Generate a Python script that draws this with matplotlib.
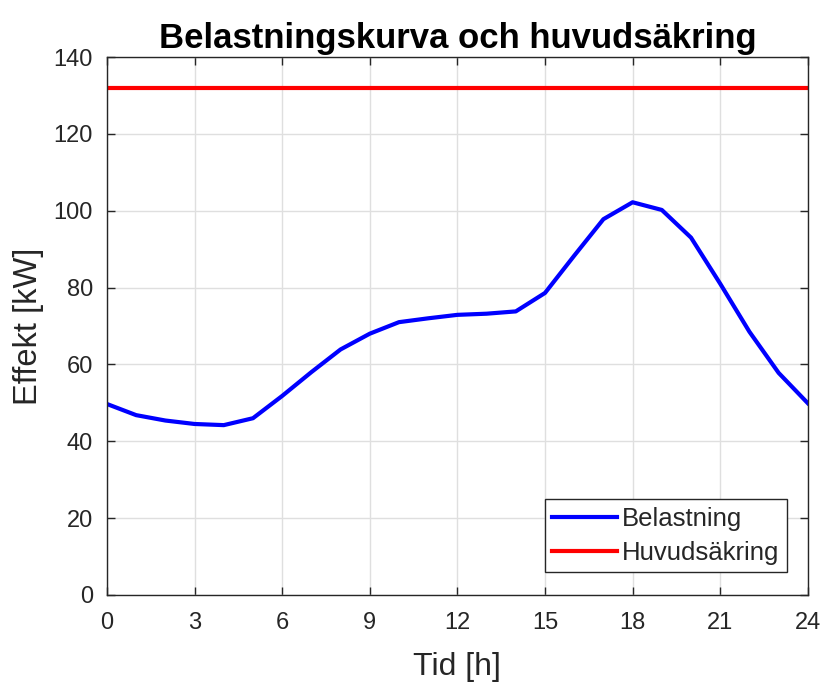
import matplotlib
matplotlib.use("Agg")
import matplotlib.pyplot as plt

hours = list(range(25))
load_kw = [49.7, 46.8, 45.4, 44.5, 44.2, 46.0, 51.8, 58.0, 63.9, 68.0, 71.0, 72.0, 72.9,
           73.2, 73.8, 78.6, 88.3, 97.8, 102.2, 100.2, 93.0, 81.0, 68.5, 57.8, 49.9]
fuse_kw = [132.0, 132.0]
fuse_x = [0, 24]
xticks = [0, 3, 6, 9, 12, 15, 18, 21, 24]
yticks = [0, 20, 40, 60, 80, 100, 120, 140]

plt.rcParams['font.family'] = ['Liberation Sans', 'DejaVu Sans']
fig = plt.figure(figsize=(8.26, 6.82), dpi=100)
ax = fig.add_axes([0.1295, 0.1276, 0.8485, 0.7888])

ax.plot(hours, load_kw, color='#0000ff', lw=3, label='Belastning')
ax.plot(fuse_x, fuse_kw, color='#ff0000', lw=3, label='Huvudsäkring')

ax.set_xlim(0, 24)
ax.set_ylim(0, 140)
ax.set_xticks(xticks)
ax.set_yticks(yticks)
ax.grid(True, color='#dfdfdf', lw=1)
ax.set_axisbelow(True)
ax.tick_params(direction='in', top=True, right=True, length=6, width=1,
               colors='#262626', labelsize=17)
ax.tick_params(axis='y', pad=10)
ax.tick_params(axis='x', pad=12)
for s in ax.spines.values():
    s.set_color('#262626')
    s.set_linewidth(1)

ax.set_xlabel('Tid [h]', fontsize=23, color='#262626', labelpad=13)
ax.set_ylabel('Effekt [kW]', fontsize=23.5, color='#262626', labelpad=7)
ax.set_title('Belastningskurva och huvudsäkring', fontsize=25, fontweight='bold', pad=6.5)

leg = ax.legend(loc='lower right', fontsize=18.5, fancybox=False, edgecolor='#262626',
                framealpha=1, borderpad=0.3, handlelength=2.5, handletextpad=0.2,
                labelspacing=0.38, borderaxespad=0,
                bbox_to_anchor=(0.97, 0.042))
leg.get_frame().set_linewidth(1)
for t in leg.get_texts():
    t.set_color('#262626')

fig.savefig('out.png', dpi=100)
